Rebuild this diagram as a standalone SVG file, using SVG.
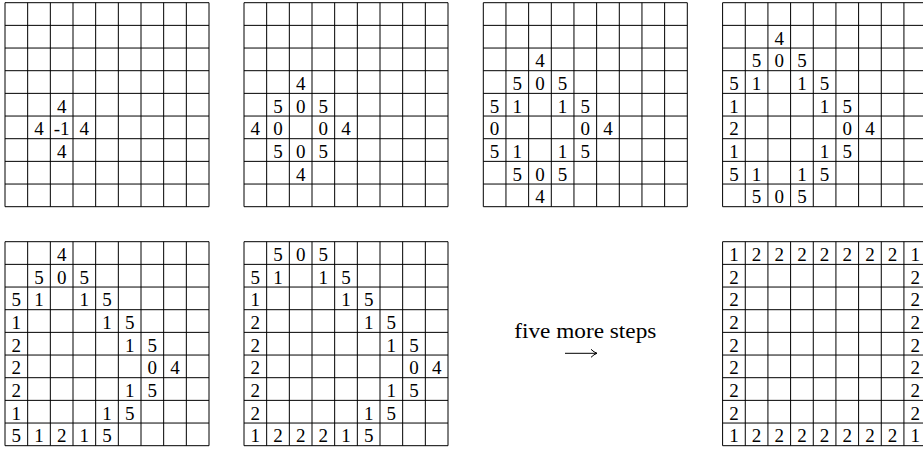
<svg xmlns="http://www.w3.org/2000/svg" width="923" height="450" viewBox="0 0 923 450">
<style>
.g{fill:none;stroke:#000;stroke-width:1}
text{font-family:"Liberation Serif","DejaVu Serif",serif;font-size:19px;fill:#000;text-anchor:middle}
.lbl{text-anchor:start;font-size:21px}
</style>
<defs>
<path id="grid" class="g" d="M0,0H204V204H0Z M22.667,0V204 M45.333,0V204 M68,0V204 M90.667,0V204 M113.333,0V204 M136,0V204 M158.667,0V204 M181.333,0V204 M0,22.667H204 M0,45.333H204 M0,68H204 M0,90.667H204 M0,113.333H204 M0,136H204 M0,158.667H204 M0,181.333H204"/>
<marker id="ah" markerWidth="10" markerHeight="10" refX="8" refY="5" orient="auto" markerUnits="userSpaceOnUse"><path d="M2,1 Q5,4 8,5 Q5,6 2,9" fill="none" stroke="#000" stroke-width="1"/></marker>
</defs>

<g id="grid1" transform="translate(5,2.7)">
<use href="#grid"/>
<text x="56.7" y="110">4</text>
<text x="34" y="132.7">4</text><text x="56.7" y="132.7">-1</text><text x="79.3" y="132.7">4</text>
<text x="56.7" y="155.3">4</text>
</g>

<g id="grid2" transform="translate(244,2.7)">
<use href="#grid"/>
<text x="56.7" y="87.3">4</text>
<text x="34" y="110">5</text><text x="56.7" y="110">0</text><text x="79.3" y="110">5</text>
<text x="11.3" y="132.7">4</text><text x="34" y="132.7">0</text><text x="79.3" y="132.7">0</text><text x="102" y="132.7">4</text>
<text x="34" y="155.3">5</text><text x="56.7" y="155.3">0</text><text x="79.3" y="155.3">5</text>
<text x="56.7" y="178">4</text>
</g>

<g id="grid3" transform="translate(483.3,2.7)">
<use href="#grid"/>
<text x="56.7" y="64.7">4</text>
<text x="34" y="87.3">5</text><text x="56.7" y="87.3">0</text><text x="79.3" y="87.3">5</text>
<text x="11.3" y="110">5</text><text x="34" y="110">1</text><text x="79.3" y="110">1</text><text x="102" y="110">5</text>
<text x="11.3" y="132.7">0</text><text x="102" y="132.7">0</text><text x="124.7" y="132.7">4</text>
<text x="11.3" y="155.3">5</text><text x="34" y="155.3">1</text><text x="79.3" y="155.3">1</text><text x="102" y="155.3">5</text>
<text x="34" y="178">5</text><text x="56.7" y="178">0</text><text x="79.3" y="178">5</text>
<text x="56.7" y="200.7">4</text>
</g>

<g id="grid4" transform="translate(722.6,2.7)">
<use href="#grid"/>
<text x="56.7" y="42">4</text>
<text x="34" y="64.7">5</text><text x="56.7" y="64.7">0</text><text x="79.3" y="64.7">5</text>
<text x="11.3" y="87.3">5</text><text x="34" y="87.3">1</text><text x="79.3" y="87.3">1</text><text x="102" y="87.3">5</text>
<text x="11.3" y="110">1</text><text x="102" y="110">1</text><text x="124.7" y="110">5</text>
<text x="11.3" y="132.7">2</text><text x="124.7" y="132.7">0</text><text x="147.3" y="132.7">4</text>
<text x="11.3" y="155.3">1</text><text x="102" y="155.3">1</text><text x="124.7" y="155.3">5</text>
<text x="11.3" y="178">5</text><text x="34" y="178">1</text><text x="79.3" y="178">1</text><text x="102" y="178">5</text>
<text x="34" y="200.7">5</text><text x="56.7" y="200.7">0</text><text x="79.3" y="200.7">5</text>
</g>

<g id="grid5" transform="translate(5,241.7)">
<use href="#grid"/>
<text x="56.7" y="19.3">4</text>
<text x="34" y="42">5</text><text x="56.7" y="42">0</text><text x="79.3" y="42">5</text>
<text x="11.3" y="64.7">5</text><text x="34" y="64.7">1</text><text x="79.3" y="64.7">1</text><text x="102" y="64.7">5</text>
<text x="11.3" y="87.3">1</text><text x="102" y="87.3">1</text><text x="124.7" y="87.3">5</text>
<text x="11.3" y="110">2</text><text x="124.7" y="110">1</text><text x="147.3" y="110">5</text>
<text x="11.3" y="132.7">2</text><text x="147.3" y="132.7">0</text><text x="170" y="132.7">4</text>
<text x="11.3" y="155.3">2</text><text x="124.7" y="155.3">1</text><text x="147.3" y="155.3">5</text>
<text x="11.3" y="178">1</text><text x="102" y="178">1</text><text x="124.7" y="178">5</text>
<text x="11.3" y="200.7">5</text><text x="34" y="200.7">1</text><text x="56.7" y="200.7">2</text><text x="79.3" y="200.7">1</text><text x="102" y="200.7">5</text>
</g>

<g id="grid6" transform="translate(244,241.7)">
<use href="#grid"/>
<text x="34" y="19.3">5</text><text x="56.7" y="19.3">0</text><text x="79.3" y="19.3">5</text>
<text x="11.3" y="42">5</text><text x="34" y="42">1</text><text x="79.3" y="42">1</text><text x="102" y="42">5</text>
<text x="11.3" y="64.7">1</text><text x="102" y="64.7">1</text><text x="124.7" y="64.7">5</text>
<text x="11.3" y="87.3">2</text><text x="124.7" y="87.3">1</text><text x="147.3" y="87.3">5</text>
<text x="11.3" y="110">2</text><text x="147.3" y="110">1</text><text x="170" y="110">5</text>
<text x="11.3" y="132.7">2</text><text x="170" y="132.7">0</text><text x="192.7" y="132.7">4</text>
<text x="11.3" y="155.3">2</text><text x="147.3" y="155.3">1</text><text x="170" y="155.3">5</text>
<text x="11.3" y="178">2</text><text x="124.7" y="178">1</text><text x="147.3" y="178">5</text>
<text x="11.3" y="200.7">1</text><text x="34" y="200.7">2</text><text x="56.7" y="200.7">2</text><text x="79.3" y="200.7">2</text><text x="102" y="200.7">1</text><text x="124.7" y="200.7">5</text>
</g>

<g id="step-label">
<text class="lbl" x="514.3" y="338.3" textLength="142" lengthAdjust="spacingAndGlyphs">five more steps</text>
</g>

<g id="connectors">
<line x1="565" y1="353.3" x2="597" y2="353.3" stroke="#000" stroke-width="1" marker-end="url(#ah)"/>
</g>

<g id="grid7" transform="translate(722.6,241.7)">
<use href="#grid"/>
<text x="11.3" y="19.3">1</text><text x="34" y="19.3">2</text><text x="56.7" y="19.3">2</text><text x="79.3" y="19.3">2</text><text x="102" y="19.3">2</text><text x="124.7" y="19.3">2</text><text x="147.3" y="19.3">2</text><text x="170" y="19.3">2</text><text x="192.7" y="19.3">1</text>
<text x="11.3" y="42">2</text><text x="192.7" y="42">2</text>
<text x="11.3" y="64.7">2</text><text x="192.7" y="64.7">2</text>
<text x="11.3" y="87.3">2</text><text x="192.7" y="87.3">2</text>
<text x="11.3" y="110">2</text><text x="192.7" y="110">2</text>
<text x="11.3" y="132.7">2</text><text x="192.7" y="132.7">2</text>
<text x="11.3" y="155.3">2</text><text x="192.7" y="155.3">2</text>
<text x="11.3" y="178">2</text><text x="192.7" y="178">2</text>
<text x="11.3" y="200.7">1</text><text x="34" y="200.7">2</text><text x="56.7" y="200.7">2</text><text x="79.3" y="200.7">2</text><text x="102" y="200.7">2</text><text x="124.7" y="200.7">2</text><text x="147.3" y="200.7">2</text><text x="170" y="200.7">2</text><text x="192.7" y="200.7">1</text>
</g>
</svg>
